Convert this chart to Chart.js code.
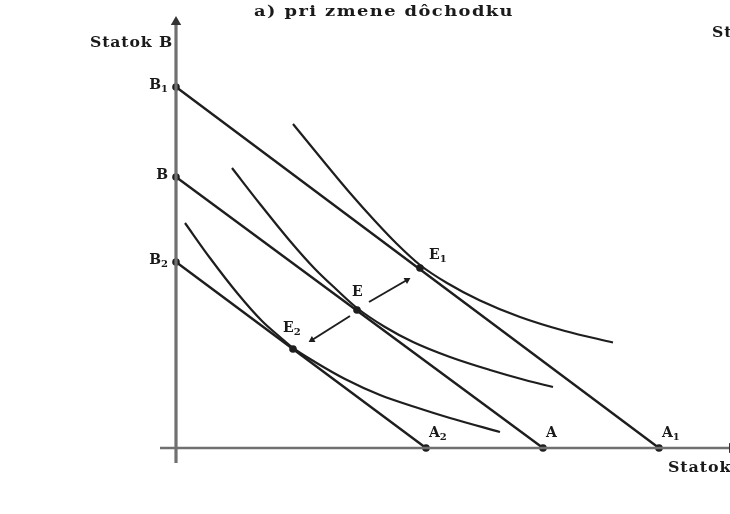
<!DOCTYPE html>
<html><head><meta charset="utf-8">
<script src="https://cdn.jsdelivr.net/npm/chart.js@4/dist/chart.umd.min.js"></script>
<style>html,body{margin:0;padding:0;background:#fff}canvas{display:block}</style>
</head><body>
<canvas id="c" width="730" height="514"></canvas>
<script>
// ---- data (arbitrary units) ----
const titleText = 'a) pri zmene dôchodku';
const yAxisTitle = 'Statok B';
const xAxisTitle = 'Statok A';
const nextPanelTitle = 'Statok B';

// budget lines: intercepts
const budgetNames = ['B1A1', 'BA', 'B2A2'];
const budgetYIntercepts = [36.1, 27.1, 18.6];
const budgetXIntercepts = [48.3, 36.7, 25.0];

// indifference curves
const curveU1 = [[11.7,32.4],[14.4,29.1],[17.4,25.5],[19.9,22.7],[22.1,20.4],[24.4,18.3],[27.1,16.5],[30.4,14.75],[34.4,13.1],[38.9,11.7],[43.7,10.55]];
const curveU  = [[5.6,28.0],[8.4,24.4],[11.4,20.7],[13.9,17.9],[16.1,15.8],[18.1,14.0],[20.9,12.1],[23.7,10.6],[27.4,9.1],[31.4,7.8],[34.9,6.8],[37.7,6.1]];
const curveU2 = [[0.9,22.5],[3.4,19.0],[6.2,15.4],[8.6,12.7],[10.4,11.1],[11.7,10.0],[13.9,8.6],[16.9,6.9],[20.4,5.3],[23.9,4.1],[27.4,3.0],[32.4,1.6]];

// equilibrium points
const eqNames = ['E1', 'E', 'E2'];
const eqX = [24.4, 18.1, 11.7];
const eqY = [18.0, 13.8, 9.9];

// shift arrows (from -> to)
const arrowUp   = [[19.3,14.6],[23.1,16.8]];
const arrowDown = [[17.4,13.2],[13.6,10.8]];

// ---- build datasets ----
const ink = '#1e1e1e';
const datasets = [];
// axes
datasets.push({data:[{x:0,y:-1.5},{x:0,y:42.6}], showLine:true, borderColor:'#707070', borderWidth:3.2,
  pointRadius:[0,6], pointStyle:'triangle', pointRotation:0, pointBackgroundColor:'#333', pointBorderWidth:0});
datasets.push({data:[{x:-1.6,y:0},{x:55.6,y:0}], showLine:true, borderColor:'#707070', borderWidth:2.6,
  pointRadius:[0,6], pointStyle:'triangle', pointRotation:90, pointBackgroundColor:'#333', pointBorderWidth:0});
// budget lines
budgetNames.forEach((n,i)=>{
  datasets.push({label:n, data:[{x:0,y:budgetYIntercepts[i]},{x:budgetXIntercepts[i],y:0}], showLine:true,
    borderColor:ink, borderWidth:2.4, pointRadius:3.8, pointBackgroundColor:ink, pointBorderColor:ink, pointBorderWidth:0});
});
// indifference curves
[curveU1, curveU, curveU2].forEach(c=>{
  datasets.push({data:c.map(p=>({x:p[0],y:p[1]})), showLine:true, borderColor:ink, borderWidth:2.2,
    cubicInterpolationMode:'monotone', pointRadius:0});
});
// equilibrium points
datasets.push({data:eqX.map((x,i)=>({x:x,y:eqY[i]})), showLine:false, pointRadius:3.8,
  pointBackgroundColor:ink, pointBorderWidth:0});
// arrows
datasets.push({data:arrowUp.map(p=>({x:p[0],y:p[1]})), showLine:true, borderColor:ink, borderWidth:2,
  pointRadius:[0,4], pointStyle:'triangle', pointRotation:60, pointBackgroundColor:ink, pointBorderWidth:0});
datasets.push({data:arrowDown.map(p=>({x:p[0],y:p[1]})), showLine:true, borderColor:ink, borderWidth:2,
  pointRadius:[0,4], pointStyle:'triangle', pointRotation:238, pointBackgroundColor:ink, pointBorderWidth:0});

// ---- labels plugin ----
const serif = '"DejaVu Serif", "Liberation Serif", serif';
function lbl(ctx, base, sub, x, y, align, size){
  ctx.font = 'bold ' + size + 'px ' + serif;
  ctx.textBaseline = 'middle';
  const wb = ctx.measureText(base).width;
  ctx.font = 'bold ' + Math.round(size*0.7) + 'px ' + serif;
  const ws = sub ? ctx.measureText(sub).width : 0;
  let left = x;
  if (align === 'right') left = x - wb - ws;
  ctx.font = 'bold ' + size + 'px ' + serif;
  ctx.textAlign = 'left';
  ctx.fillText(base, left, y);
  if (sub){
    ctx.font = 'bold ' + Math.round(size*0.7) + 'px ' + serif;
    ctx.fillText(sub, left + wb, y + size*0.35);
  }
}
// draw text stretched horizontally from left edge to a given width
function wideText(ctx, text, left, y, width, size, spacing){
  ctx.save();
  ctx.font = 'bold ' + size + 'px ' + serif;
  ctx.letterSpacing = spacing + 'px';
  ctx.textAlign = 'left'; ctx.textBaseline = 'middle';
  const w = ctx.measureText(text).width;
  const s = width / w;
  ctx.translate(left, y);
  ctx.scale(s, 1);
  ctx.fillText(text, 0, 0);
  ctx.restore();
}
const labelPlugin = {
  id:'labels',
  afterDatasetsDraw(chart){
    const ctx = chart.ctx, xs = chart.scales.x, ys = chart.scales.y;
    const px = v=>xs.getPixelForValue(v), py = v=>ys.getPixelForValue(v);
    ctx.save();
    ctx.fillStyle = '#1a1a1a';
    wideText(ctx, titleText, 254, 12, 260, 15, 1.2);
    wideText(ctx, yAxisTitle, 90, 43, 83, 14, 0.8);
    wideText(ctx, xAxisTitle, px(budgetXIntercepts[0]) + 9, py(0) + 20, 83, 14, 0.8);
    wideText(ctx, nextPanelTitle, 712, 33, 83, 14, 0.8);
    // intercept labels
    const subs = ['1','','2'];
    budgetYIntercepts.forEach((v,i)=>lbl(ctx,'B',subs[i],px(0)-8,py(v)-2,'right',14));
    budgetXIntercepts.forEach((v,i)=>lbl(ctx,'A',subs[i],px(v)+3,py(0)-15,'left',14));
    // equilibrium labels
    const off = [[9,-13],[-5,-18],[-10,-21]];
    eqNames.forEach((n,i)=>lbl(ctx,'E',n.slice(1),px(eqX[i])+off[i][0],py(eqY[i])+off[i][1],'left',14));
    ctx.restore();
  }
};

new Chart(document.getElementById('c'), {
  type:'scatter',
  data:{datasets},
  options:{
    responsive:false, animation:false, devicePixelRatio:1,
    layout:{padding:0, autoPadding:false},
    plugins:{legend:{display:false}, tooltip:{enabled:false}},
    scales:{
      x:{type:'linear', min:-17.6, max:55.4, display:false},
      y:{type:'linear', min:-6.6, max:44.8, display:false}
    }
  },
  plugins:[labelPlugin]
});
</script>
</body></html>
